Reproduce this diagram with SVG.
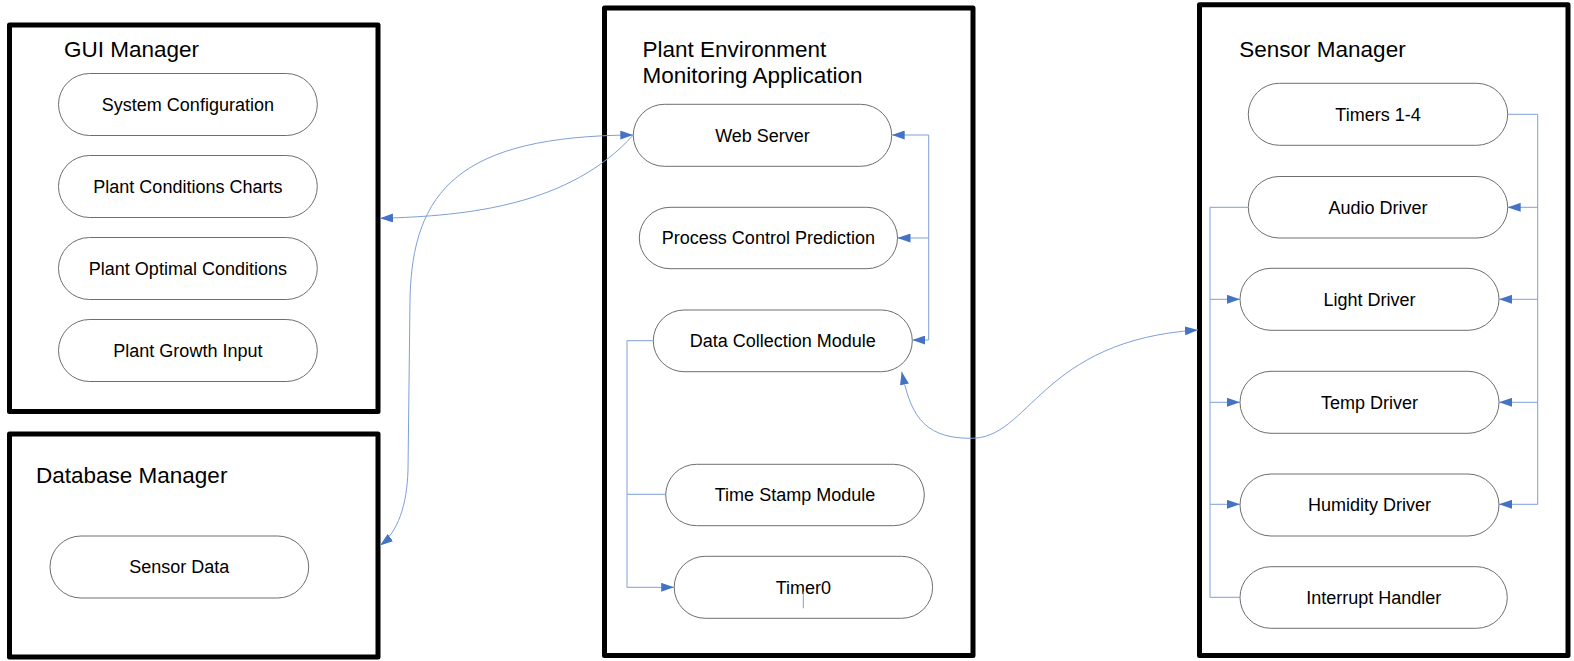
<svg xmlns="http://www.w3.org/2000/svg" width="1574" height="661" viewBox="0 0 1574 661">
<style>
.box{fill:none;stroke:#000;stroke-width:5;stroke-linejoin:round}
.pill{fill:#fff;stroke:#6e6e6e;stroke-width:1}
.title{font-family:"Liberation Sans",Arial,sans-serif;font-size:22.5px;fill:#000}
.lbl{font-family:"Liberation Sans",Arial,sans-serif;font-size:18px;fill:#000;text-anchor:middle}
.con{fill:none;stroke:#7f9fd8;stroke-width:1}
</style>
<defs>
<marker id="arr" viewBox="0 0 13 9" refX="13" refY="4.5" markerWidth="13" markerHeight="9" markerUnits="userSpaceOnUse" orient="auto-start-reverse">
<path d="M0,0 L13,4.5 L0,9 z" fill="#4472C4"/>
</marker>
</defs>
<rect width="1574" height="661" fill="#fff"/>

<g id="gui-manager">
<rect class="box" x="9.5" y="25" width="368.5" height="386.5"/>
<text class="title" x="64" y="57.3">GUI Manager</text>
</g>
<g id="database-manager">
<rect class="box" x="9.5" y="434" width="368.5" height="223"/>
<text class="title" x="36" y="483.3">Database Manager</text>
</g>
<g id="plant-app">
<rect class="box" x="604.5" y="8" width="368.5" height="647.5"/>
<text class="title" x="642.5" y="56.7">Plant Environment</text>
<text class="title" x="642.5" y="83.3">Monitoring Application</text>
</g>
<g id="sensor-manager">
<rect class="box" x="1199.5" y="4.7" width="368.5" height="650.8"/>
<text class="title" x="1239.3" y="57.3">Sensor Manager</text>
</g>

<g id="system-configuration"><rect class="pill" x="58.5" y="73.5" width="258.8" height="62" rx="31"/><text class="lbl" x="187.9" y="110.8">System Configuration</text></g>
<g id="plant-conditions-charts"><rect class="pill" x="58.5" y="155.5" width="258.8" height="62" rx="31"/><text class="lbl" x="187.9" y="192.8">Plant Conditions Charts</text></g>
<g id="plant-optimal-conditions"><rect class="pill" x="58.5" y="237.5" width="258.8" height="62" rx="31"/><text class="lbl" x="187.9" y="274.8">Plant Optimal Conditions</text></g>
<g id="plant-growth-input"><rect class="pill" x="58.5" y="319.5" width="258.8" height="62" rx="31"/><text class="lbl" x="187.9" y="356.8">Plant Growth Input</text></g>

<g id="sensor-data"><rect class="pill" x="50" y="536" width="258.7" height="62" rx="31"/><text class="lbl" x="179.3" y="573.3">Sensor Data</text></g>

<g id="web-server"><rect class="pill" x="633.3" y="104.3" width="258.4" height="62" rx="31"/><text class="lbl" x="762.5" y="141.6">Web Server</text></g>
<g id="process-control-prediction"><rect class="pill" x="639.3" y="207.3" width="258.2" height="61.4" rx="30.7"/><text class="lbl" x="768.4" y="244.3">Process Control Prediction</text></g>
<g id="data-collection-module"><rect class="pill" x="653.3" y="310" width="259" height="61.7" rx="30.8"/><text class="lbl" x="782.8" y="347.3">Data Collection Module</text></g>
<g id="time-stamp-module"><rect class="pill" x="665.7" y="464.3" width="258.6" height="61.4" rx="30.7"/><text class="lbl" x="795" y="501.3">Time Stamp Module</text></g>
<g id="timer0"><rect class="pill" x="674.2" y="556.3" width="258.4" height="62" rx="31"/><text class="lbl" x="803.4" y="593.6">Timer0</text></g>

<g id="timers-1-4"><rect class="pill" x="1248.3" y="83.3" width="259.4" height="62" rx="31"/><text class="lbl" x="1378" y="120.6">Timers 1-4</text></g>
<g id="audio-driver"><rect class="pill" x="1248.3" y="176.5" width="259.4" height="61.5" rx="30.8"/><text class="lbl" x="1378" y="213.6">Audio Driver</text></g>
<g id="light-driver"><rect class="pill" x="1240" y="268.3" width="259" height="62" rx="31"/><text class="lbl" x="1369.5" y="305.6">Light Driver</text></g>
<g id="temp-driver"><rect class="pill" x="1240" y="371.3" width="259" height="62" rx="31"/><text class="lbl" x="1369.5" y="408.6">Temp Driver</text></g>
<g id="humidity-driver"><rect class="pill" x="1240" y="474" width="259" height="62" rx="31"/><text class="lbl" x="1369.5" y="511">Humidity Driver</text></g>
<g id="interrupt-handler"><rect class="pill" x="1240" y="566.7" width="267.3" height="61.6" rx="30.8"/><text class="lbl" x="1373.7" y="604">Interrupt Handler</text></g>

<g id="connectors">
<path class="con" d="M928.7,135 V340"/>
<path class="con" d="M928.7,135 H891.7" marker-end="url(#arr)"/>
<path class="con" d="M928.7,238 H897.5" marker-end="url(#arr)"/>
<path class="con" d="M928.7,340 H912.3" marker-end="url(#arr)"/>

<path class="con" d="M1507.7,114.3 H1537.7 V504.3"/>
<path class="con" d="M1537.7,207.3 H1507.7" marker-end="url(#arr)"/>
<path class="con" d="M1537.7,299.3 H1499" marker-end="url(#arr)"/>
<path class="con" d="M1537.7,402.3 H1499" marker-end="url(#arr)"/>
<path class="con" d="M1537.7,504.3 H1499" marker-end="url(#arr)"/>

<path class="con" d="M1248.3,207.3 H1210 V597.3 H1240"/>
<path class="con" d="M1210,299.3 H1240" marker-end="url(#arr)"/>
<path class="con" d="M1210,402.3 H1240" marker-end="url(#arr)"/>
<path class="con" d="M1210,504.3 H1240" marker-end="url(#arr)"/>

<path class="con" d="M653.3,340.7 H627 V587.3 H674.2" marker-end="url(#arr)"/>
<path class="con" d="M665.7,494.3 H627"/>
<path class="con" d="M803.3,591.7 V608.3"/>

<path class="con" d="M380,545.5 C398,532 407,505 408,470 L410,300 C412,190 460,136 633.3,135" marker-start="url(#arr)" marker-end="url(#arr)"/>
<path class="con" d="M380,218.3 C470,216 570,205 633.3,135" marker-start="url(#arr)"/>
<path class="con" d="M901.7,371.7 C910,410 920,438.3 970,438.3 C1030,440 1040,340 1198,330" marker-start="url(#arr)" marker-end="url(#arr)"/>
</g>
</svg>
